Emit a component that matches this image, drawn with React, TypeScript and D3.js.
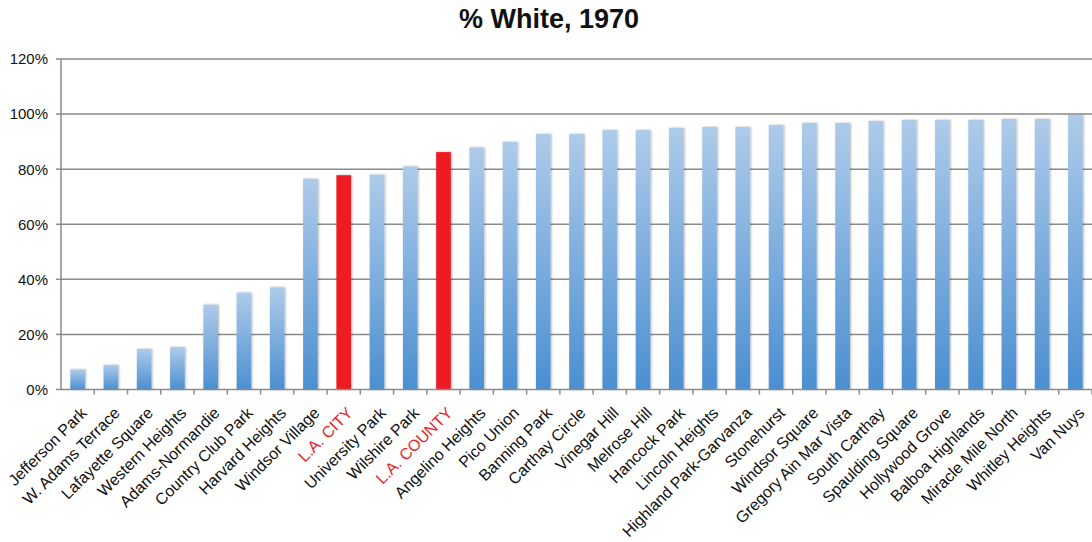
import React from "react";
import * as d3 from "d3";

const categories = [
  "Jefferson Park", "W. Adams Terrace", "Lafayette Square", "Western Heights",
  "Adams-Normandie", "Country Club Park", "Harvard Heights", "Windsor Village",
  "L.A. CITY", "University Park", "Wilshire Park", "L.A. COUNTY",
  "Angelino Heights", "Pico Union", "Banning Park", "Carthay Circle",
  "Vinegar Hill", "Melrose Hill", "Hancock Park", "Lincoln Heights",
  "Highland Park-Garvanza", "Stonehurst", "Windsor Square", "Gregory Ain Mar Vista",
  "South Carthay", "Spaulding Square", "Hollywood Grove", "Balboa Highlands",
  "Miracle Mile North", "Whitley Heights", "Van Nuys",
];

const pctWhite = [
  7.3, 8.9, 14.7, 15.4, 30.8, 35.2, 37.1, 76.5,
  77.8, 78.0, 81.0, 86.2, 87.9, 89.9, 92.8, 92.8,
  94.2, 94.2, 95.0, 95.3, 95.3, 96.0, 96.8, 96.8,
  97.5, 97.9, 97.9, 97.9, 98.2, 98.2, 99.7,
];

const highlighted = ["L.A. CITY", "L.A. COUNTY"];
const yTicks = [0, 20, 40, 60, 80, 100, 120];

const W = 1092;
const H = 542;
const left = 61;
const right = 1092;
const top = 59;
const bottom = 389.5;

export default function App() {
  const x = d3.scaleBand<string>().domain(categories).range([left, right]).paddingInner(0.56).paddingOuter(0.28);
  const band = d3.scaleBand<string>().domain(categories).range([left, right]);
  const y = d3.scaleLinear().domain([0, 120]).range([bottom, top]);
  const font = "'Liberation Sans', Arial, sans-serif";

  return (
    <svg width={W} height={H} style={{ position: "absolute", left: 0, top: 0, background: "#fff" }}>
      <defs>
        <linearGradient id="barBlue" x1="0" y1="0" x2="0" y2="1">
          <stop offset="0%" stopColor="#aecbea" />
          <stop offset="100%" stopColor="#4b8fd1" />
        </linearGradient>
        <filter id="barShadow" x="-30%" y="-5%" width="160%" height="110%">
          <feDropShadow dx="1" dy="0" stdDeviation="0.8" floodColor="#000" floodOpacity="0.3" />
        </filter>
      </defs>
      <text x={549} y={28} textAnchor="middle" fontFamily={font} fontWeight="bold" fontSize={27} fill="#111">
        % White, 1970
      </text>
      {yTicks.map((t) => (
        <g key={t}>
          {t > 0 && (
            <line x1={left} x2={right} y1={y(t)} y2={y(t)} stroke="#8a8a8a" strokeWidth={1.5} />
          )}
          <line x1={left - 5} x2={left} y1={y(t)} y2={y(t)} stroke="#8a8a8a" strokeWidth={1.5} />
          <text x={48} y={y(t)} dy="0.36em" textAnchor="end" fontFamily={font} fontSize={15} fill="#111">
            {t}%
          </text>
        </g>
      ))}
      {categories.map((c, i) => {
        const red = highlighted.includes(c);
        return (
          <rect
            key={c}
            x={x(c)}
            y={y(pctWhite[i])}
            width={x.bandwidth()}
            height={bottom - y(pctWhite[i])}
            fill={red ? "#ed1c24" : "url(#barBlue)"}
            filter="url(#barShadow)"
          />
        );
      })}
      <line x1={left} x2={left} y1={top} y2={bottom} stroke="#8a8a8a" strokeWidth={1.5} />
      <line x1={left} x2={right} y1={bottom} y2={bottom} stroke="#8a8a8a" strokeWidth={1.5} />
      {categories.map((c) => (
        <line key={c} x1={(band(c) ?? 0) + band.bandwidth()} x2={(band(c) ?? 0) + band.bandwidth()} y1={bottom} y2={bottom + 5} stroke="#8a8a8a" strokeWidth={1.5} />
      ))}
      {categories.map((c) => {
        const cx = (x(c) ?? 0) + x.bandwidth() / 2;
        const red = highlighted.includes(c);
        return (
          <text
            key={c}
            transform={`translate(${cx + 10},${bottom + 24.5}) rotate(-45)`}
            textAnchor="end"
            fontFamily={font}
            fontSize={16}
            fill={red ? "#ed1c24" : "#111"}
          >
            {c}
          </text>
        );
      })}
    </svg>
  );
}
